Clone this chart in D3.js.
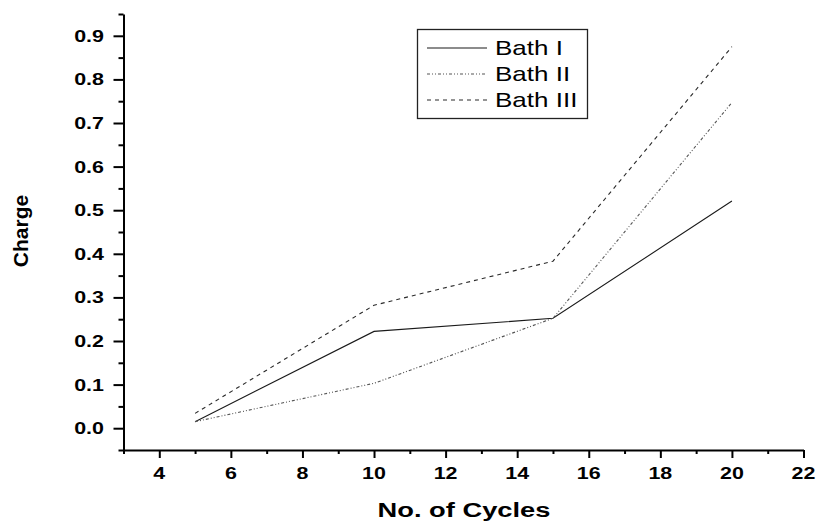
<!DOCTYPE html>
<html>
<head>
<meta charset="utf-8">
<script src="https://cdn.jsdelivr.net/npm/d3@7"></script>
<style>
  html, body { margin: 0; padding: 0; background: #fff; }
  svg { display: block; }
  text { font-family: "Liberation Sans", Arial, sans-serif; fill: #000; }
</style>
</head>
<body>
<svg id="chart" width="819" height="521"></svg>
<script>
// Charge recorded after each number of cycles, for three baths
const cycles = [5, 10, 15, 20];
const bathI   = [0.015, 0.222, 0.252, 0.521];
const bathII  = [0.015, 0.103, 0.252, 0.747];
const bathIII = [0.034, 0.282, 0.383, 0.875];
const seriesNames = ["Bath I", "Bath II", "Bath III"];

const xMajorTicks = [4, 6, 8, 10, 12, 14, 16, 18, 20, 22];
const xMinorTicks = [3, 5, 7, 9, 11, 13, 15, 17, 19, 21];
const yMajorTicks = [0, 0.1, 0.2, 0.3, 0.4, 0.5, 0.6, 0.7, 0.8, 0.9];
const yMinorTicks = [-0.05, 0.05, 0.15, 0.25, 0.35, 0.45, 0.55, 0.65, 0.75, 0.85, 0.95];

const svg = d3.select("#chart");
const SX = 1.3; // horizontal widening of the lettering

const x = d3.scaleLinear().domain([3, 22]).range([123.5, 803.5]);
const y = d3.scaleLinear().domain([-0.05, 0.95]).range([450, 14]);

const styles = [
  { stroke: "#1a1a1a", dash: null,          width: 1.1 },
  { stroke: "#555555", dash: "3,2,1,2,1,2", width: 1.1 },
  { stroke: "#2a2a2a", dash: "4,4",         width: 1.1 }
];
const series = [bathI, bathII, bathIII];

// x axis: major and minor ticks
const gx = svg.append("g").attr("transform", `translate(0,${y.range()[0]})`);
gx.call(d3.axisBottom(x).tickValues(xMajorTicks).tickSize(8).tickSizeOuter(0).tickFormat(""));
gx.call(g => g.selectAll(".tick line").attr("stroke-width", 2));
gx.call(g => g.select(".domain").attr("stroke-width", 2));
const gxm = svg.append("g").attr("transform", `translate(0,${y.range()[0]})`);
gxm.call(d3.axisBottom(x).tickValues(xMinorTicks).tickSize(4).tickSizeOuter(0).tickFormat(""));
gxm.call(g => g.select(".domain").remove());
gxm.call(g => g.selectAll(".tick line").attr("stroke-width", 2));

// y axis: major and minor ticks
const gy = svg.append("g").attr("transform", `translate(${x.range()[0]},0)`);
gy.call(d3.axisLeft(y).tickValues(yMajorTicks).tickSize(10).tickSizeOuter(0).tickFormat(""));
gy.call(g => g.selectAll(".tick line").attr("stroke-width", 2));
gy.call(g => g.select(".domain").attr("stroke-width", 2));
const gym = svg.append("g").attr("transform", `translate(${x.range()[0]},0)`);
gym.call(d3.axisLeft(y).tickValues(yMinorTicks).tickSize(5).tickSizeOuter(0).tickFormat(""));
gym.call(g => g.select(".domain").remove());
gym.call(g => g.selectAll(".tick line").attr("stroke-width", 2));

// tick labels
svg.append("g").selectAll("text").data(xMajorTicks).join("text")
  .attr("transform", d => `translate(${x(d)},479) scale(${SX},1)`)
  .attr("text-anchor", "middle")
  .attr("font-size", 16.5).attr("font-weight", "bold")
  .text(d => d);

svg.append("g").selectAll("text").data(yMajorTicks).join("text")
  .attr("transform", d => `translate(104,${y(d) + 6}) scale(${SX},1)`)
  .attr("text-anchor", "end")
  .attr("font-size", 16.5).attr("font-weight", "bold")
  .text(d => d3.format(".1f")(d));

// axis titles
svg.append("text")
  .attr("transform", `translate(464,516.5) scale(${SX},1)`)
  .attr("text-anchor", "middle")
  .attr("font-size", 21).attr("font-weight", "bold")
  .text("No. of Cycles");

svg.append("text")
  .attr("transform", "translate(28,231) rotate(-90)")
  .attr("text-anchor", "middle")
  .attr("font-size", 21).attr("font-weight", "bold")
  .text("Charge");

// data lines
const line = d3.line().x((d, i) => x(cycles[i])).y(d => y(d));
series.forEach((vals, i) => {
  svg.append("path")
    .datum(vals)
    .attr("d", line)
    .attr("fill", "none")
    .attr("stroke", styles[i].stroke)
    .attr("stroke-width", styles[i].width)
    .attr("stroke-dasharray", styles[i].dash);
});

// legend
const lg = svg.append("g");
lg.append("rect")
  .attr("x", 417.5).attr("y", 29.5).attr("width", 170).attr("height", 89)
  .attr("fill", "#fff").attr("stroke", "#222").attr("stroke-width", 1.3);
seriesNames.forEach((name, i) => {
  const cy = 48 + i * 26;
  lg.append("line")
    .attr("x1", 427).attr("x2", 487).attr("y1", cy).attr("y2", cy)
    .attr("stroke", styles[i].stroke)
    .attr("stroke-width", styles[i].width)
    .attr("stroke-dasharray", styles[i].dash);
  lg.append("text")
    .attr("transform", `translate(495,${cy + 7.3}) scale(${SX},1)`)
    .attr("font-size", 20)
    .text(name);
});
</script>
</body>
</html>
